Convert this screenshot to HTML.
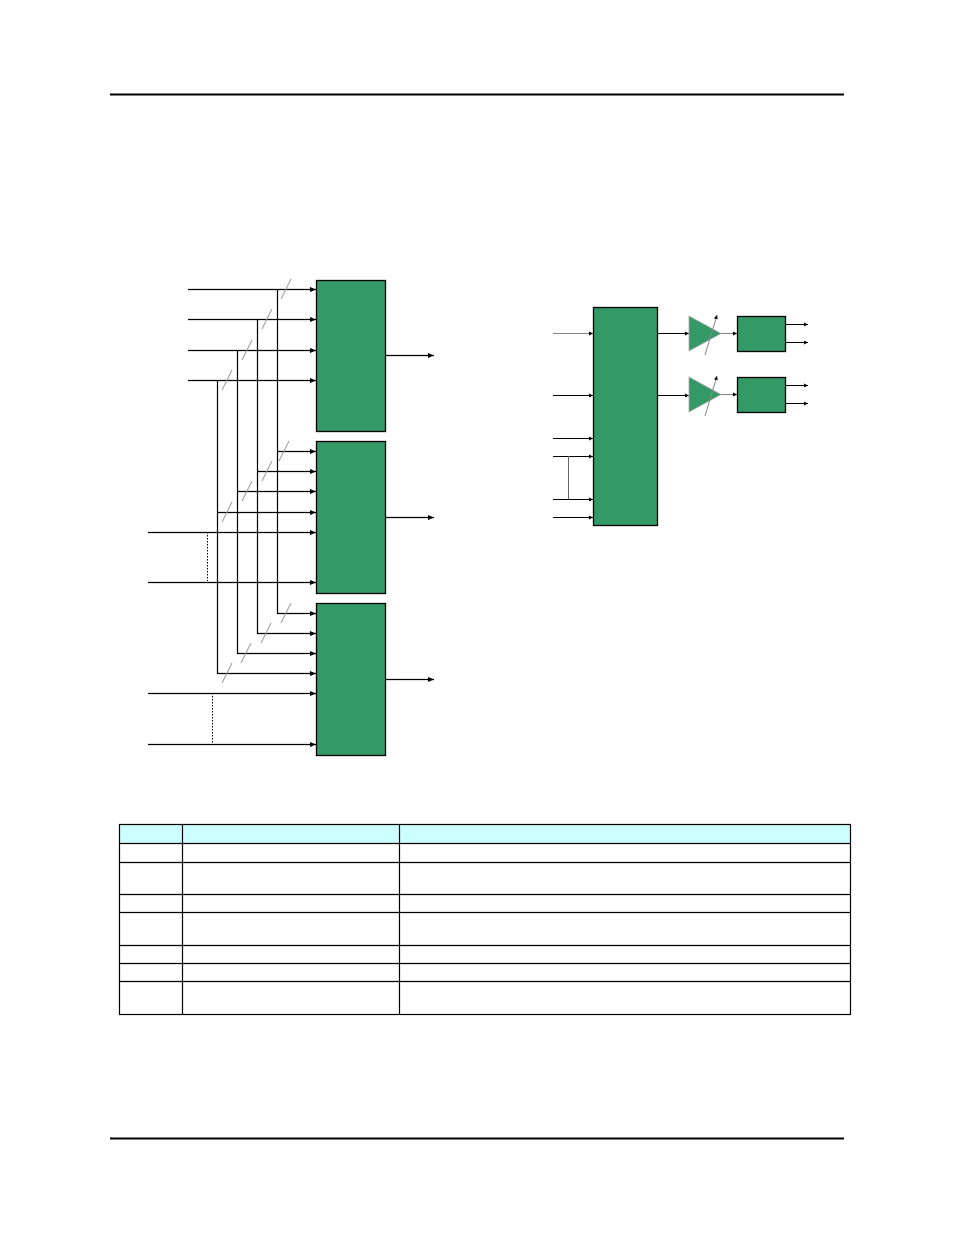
<!DOCTYPE html>
<html><head><meta charset="utf-8"><style>
html,body{margin:0;padding:0;background:#fff;width:954px;height:1235px;overflow:hidden;font-family:"Liberation Sans",sans-serif}
svg{position:absolute;left:0;top:0}
</style></head><body>
<svg width="954" height="1235" viewBox="0 0 954 1235" xmlns="http://www.w3.org/2000/svg">
<defs>
<marker id="a" markerWidth="6" markerHeight="6" refX="6" refY="3" orient="auto" markerUnits="userSpaceOnUse"><path d="M0,0.5 L6,3 L0,5.5z" fill="#000"/></marker>
<marker id="s" markerWidth="4" markerHeight="4" refX="4" refY="2" orient="auto" markerUnits="userSpaceOnUse"><path d="M0,0 L4,2 L0,4z" fill="#000"/></marker>
</defs>
<line x1="110" y1="94.5" x2="844" y2="94.5" stroke="#000" stroke-width="2"/>
<line x1="110" y1="1138.5" x2="844" y2="1138.5" stroke="#000" stroke-width="2"/>

<!-- left blocks -->
<g fill="#339966" stroke="#000" stroke-width="1.3">
<rect x="316.5" y="280.5" width="69" height="151"/>
<rect x="316.5" y="441.5" width="69" height="152"/>
<rect x="316.5" y="603.5" width="69" height="152"/>
</g>
<g stroke="#000" stroke-width="1.2" fill="none" marker-end="url(#a)">
<line x1="188" y1="289.5" x2="316" y2="289.5"/>
<line x1="188" y1="319.5" x2="316" y2="319.5"/>
<line x1="188" y1="350.5" x2="316" y2="350.5"/>
<line x1="188" y1="380.5" x2="316" y2="380.5"/>
<line x1="277" y1="451.5" x2="316" y2="451.5"/>
<line x1="257" y1="471.5" x2="316" y2="471.5"/>
<line x1="237" y1="491.5" x2="316" y2="491.5"/>
<line x1="217" y1="512.5" x2="316" y2="512.5"/>
<line x1="148" y1="532.5" x2="316" y2="532.5"/>
<line x1="148" y1="582.5" x2="316" y2="582.5"/>
<line x1="277" y1="613.5" x2="316" y2="613.5"/>
<line x1="257" y1="633.5" x2="316" y2="633.5"/>
<line x1="237" y1="653.5" x2="316" y2="653.5"/>
<line x1="217" y1="673.5" x2="316" y2="673.5"/>
<line x1="148" y1="693.5" x2="316" y2="693.5"/>
<line x1="148" y1="744.5" x2="316" y2="744.5"/>
<line x1="385" y1="355.5" x2="434" y2="355.5"/>
<line x1="385" y1="517.5" x2="434" y2="517.5"/>
<line x1="385" y1="679.5" x2="434" y2="679.5"/>
</g>
<g stroke="#000" stroke-width="1.2">
<line x1="277.5" y1="289" x2="277.5" y2="614"/>
<line x1="257.5" y1="319" x2="257.5" y2="634"/>
<line x1="237.5" y1="350" x2="237.5" y2="654"/>
<line x1="217.5" y1="380" x2="217.5" y2="674"/>
</g>
<g stroke="#000" stroke-width="1" stroke-dasharray="1.5,1.5">
<line x1="207.5" y1="532" x2="207.5" y2="581"/>
<line x1="212.5" y1="693" x2="212.5" y2="743"/>
</g>
<g stroke="#999" stroke-width="1">
<line x1="281" y1="299" x2="291" y2="279"/>
<line x1="262" y1="329" x2="272" y2="309"/>
<line x1="242" y1="360" x2="252" y2="340"/>
<line x1="222" y1="390" x2="232" y2="370"/>
<line x1="279" y1="461" x2="289" y2="441"/>
<line x1="262" y1="481" x2="272" y2="461"/>
<line x1="242" y1="501" x2="252" y2="481"/>
<line x1="222" y1="522" x2="232" y2="502"/>
<line x1="281" y1="623" x2="291" y2="603"/>
<line x1="261" y1="643" x2="271" y2="623"/>
<line x1="241" y1="663" x2="251" y2="643"/>
<line x1="222" y1="683" x2="232" y2="663"/>
</g>

<!-- right diagram -->
<rect x="593.5" y="307.5" width="64" height="218" fill="#339966" stroke="#000" stroke-width="1.3"/>
<g stroke="#000" stroke-width="1.1" marker-end="url(#s)">
<line x1="553" y1="333.5" x2="593" y2="333.5" stroke="#888"/>
<line x1="553" y1="395.5" x2="593" y2="395.5"/>
<line x1="553" y1="438.5" x2="593" y2="438.5"/>
<line x1="553" y1="456.5" x2="593" y2="456.5"/>
<line x1="553" y1="499.5" x2="593" y2="499.5"/>
<line x1="553" y1="517.5" x2="593" y2="517.5"/>
<line x1="657" y1="333.5" x2="689" y2="333.5"/>
<line x1="657" y1="395.5" x2="689" y2="395.5"/>
<line x1="721" y1="333.5" x2="737" y2="333.5" stroke="#888"/>
<line x1="721" y1="394.5" x2="737" y2="394.5" stroke="#888"/>
<line x1="785" y1="324.5" x2="808" y2="324.5"/>
<line x1="785" y1="342.5" x2="808" y2="342.5"/>
<line x1="785" y1="385.5" x2="808" y2="385.5"/>
<line x1="785" y1="403.5" x2="808" y2="403.5"/>
</g>
<line x1="568.5" y1="456" x2="568.5" y2="499" stroke="#666" stroke-width="1"/>
<g fill="#339966" stroke="#aaa" stroke-width="0.8">
<path d="M689,316 L721,333.5 L689,351z"/>
<path d="M689,377 L721,394.5 L689,412z"/>
</g>
<g stroke="#888" stroke-width="1" marker-end="url(#s)">
<line x1="705" y1="355" x2="717" y2="315"/>
<line x1="705" y1="416" x2="717" y2="376"/>
</g>
<g fill="#339966" stroke="#000" stroke-width="1.3">
<rect x="737.5" y="316.5" width="48" height="35"/>
<rect x="737.5" y="377.5" width="48" height="35"/>
</g>

<!-- table -->
<rect x="119.5" y="824.5" width="731" height="19" fill="#ccffff"/>
<g stroke="#000" stroke-width="1.2" fill="none">
<rect x="119.5" y="824.5" width="731" height="190"/>
<line x1="182.5" y1="824" x2="182.5" y2="1014"/>
<line x1="399.5" y1="824" x2="399.5" y2="1014"/>
<line x1="119" y1="843.5" x2="851" y2="843.5"/>
<line x1="119" y1="862.5" x2="851" y2="862.5"/>
<line x1="119" y1="894.5" x2="851" y2="894.5"/>
<line x1="119" y1="912.5" x2="851" y2="912.5"/>
<line x1="119" y1="945.5" x2="851" y2="945.5"/>
<line x1="119" y1="963.5" x2="851" y2="963.5"/>
<line x1="119" y1="981.5" x2="851" y2="981.5"/>
</g>
</svg>
</body></html>
